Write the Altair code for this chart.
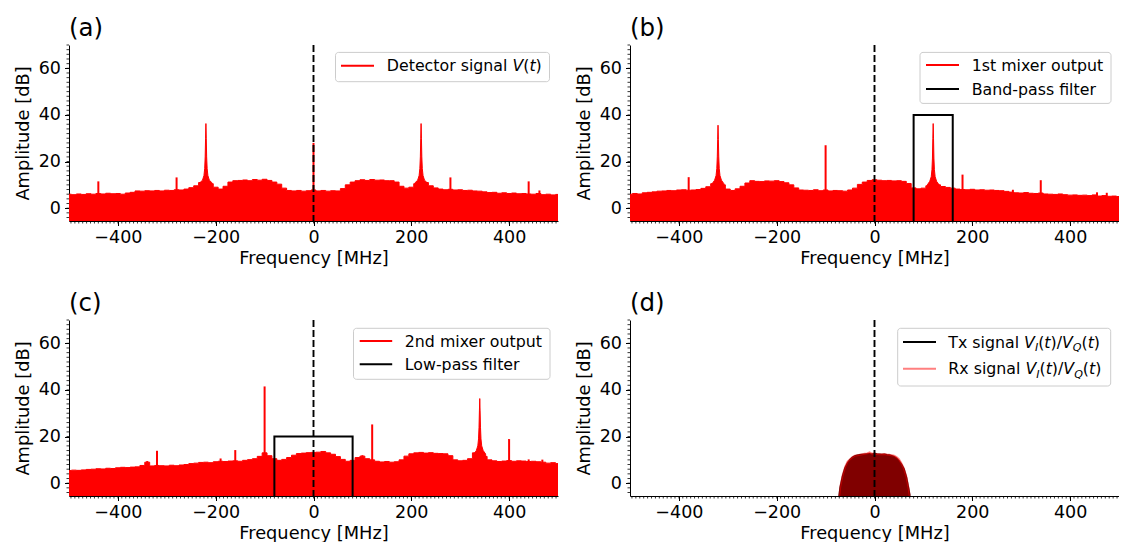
import altair as alt
import pandas as pd

FONT = "DejaVu Sans"
RED = "#ff0000"
X_MIN, X_MAX = -500, 500
Y_MIN, Y_MAX = -5.5, 70
W, H = 489, 176

# ---------------- data ----------------
freq_grid = list(range(-500, 501, 10))  # MHz sampling of the noise floor

floor_a = [6.0, 5.8, 6.1, 5.9, 6.2, 6.0, 6.3, 6.1, 6.4, 6.2,
           6.3, 6.0, 6.5, 6.8, 7.4, 7.3, 7.5, 7.4, 7.6, 7.4,
           7.7, 7.6, 7.9, 7.8, 8.2, 8.8, 9.6, 11.0, 12.5, 10.5,
           9.0, 8.2, 9.4, 11.2, 11.8, 11.9, 12.1, 11.8, 12.3, 12.0,
           12.4, 11.9, 11.2, 10.3, 8.6, 7.6, 7.4, 7.6, 7.3, 7.5,
           7.8, 7.4, 7.6, 7.3, 7.5, 7.4, 8.4, 10.0, 11.2, 11.8,
           12.2, 11.9, 12.3, 12.0, 12.1, 11.8, 11.8, 11.2, 9.4, 8.6,
           9.0, 10.5, 12.5, 11.0, 9.6, 8.7, 8.2, 7.9, 8.1, 7.8,
           7.9, 7.6, 7.7, 7.4, 7.3, 7.0, 6.7, 6.8, 6.4, 6.6,
           6.3, 6.5, 6.2, 6.3, 6.1, 6.0, 6.3, 5.8, 6.0, 5.7,
           5.9]

floor_b = [6.0, 6.3, 6.1, 6.6, 6.8, 7.0, 7.3, 7.4, 7.6, 7.5,
           7.8, 7.9, 7.7, 7.8, 8.0, 8.5, 9.2, 10.5, 12.5, 10.0,
           8.2, 7.6, 8.3, 9.4, 10.8, 11.8, 11.5, 11.4, 11.7, 11.6,
           11.8, 11.4, 10.9, 10.0, 8.7, 7.8, 7.7, 7.6, 7.9, 7.5,
           7.8, 7.4, 7.6, 7.5, 7.3, 7.8, 8.6, 10.2, 11.2, 11.9,
           12.2, 12.0, 11.8, 11.9, 11.7, 11.8, 11.5, 10.6, 8.7, 8.3,
           8.6, 9.6, 12.0, 10.0, 9.3, 8.9, 8.6, 8.2, 8.0, 7.9,
           8.1, 7.8, 7.9, 7.7, 7.8, 7.6, 7.5, 7.2, 6.9, 6.6,
           6.5, 6.7, 6.4, 6.3, 6.5, 6.1, 6.0, 5.9, 6.1, 5.8,
           5.6, 5.7, 5.5, 5.6, 5.4, 5.7, 5.2, 5.4, 5.1, 5.2,
           5.0]

floor_c = [5.4, 5.6, 5.5, 5.7, 5.9, 6.0, 6.2, 6.1, 6.4, 6.3,
           6.6, 6.8, 6.7, 6.9, 7.0, 7.6, 9.0, 7.4, 7.6, 7.5,
           7.4, 7.7, 7.5, 7.8, 8.0, 8.4, 8.6, 8.9, 9.0, 8.8,
           9.2, 9.4, 9.3, 9.5, 9.6, 9.4, 9.8, 10.1, 10.5, 11.5,
           13.0, 11.8, 10.5, 9.8, 10.2, 11.0, 12.0, 12.7, 12.9, 13.1,
           13.2, 13.3, 13.6, 13.0, 12.4, 11.4, 10.2, 9.4, 9.8, 11.0,
           11.6, 10.5, 10.0, 9.4, 9.1, 9.3, 9.0, 9.2, 10.0, 11.6,
           12.6, 13.0, 13.2, 12.9, 13.1, 12.8, 12.7, 12.6, 11.8, 10.0,
           9.6, 9.8, 10.5, 13.0, 14.0, 11.5, 10.0, 9.6, 9.3, 9.5,
           9.7, 9.4, 9.6, 9.5, 9.3, 9.4, 9.2, 9.0, 8.6, 8.8,
           8.4]

# narrow spurs (frequency MHz, level dB)
spur_a_f = [-440, -280, 0, 280, 440, 462]
spur_a_h = [11.5, 13.2, 28.0, 13.2, 11.5, 7.6]
spur_b_f = [-380, -100, 180, 283, 340, 455, 475]
spur_b_h = [13.3, 27.0, 14.4, 7.9, 12.0, 6.8, 6.6]
spur_c_f = [-340, -320, -190, -160, -100, 100, 120, 400, 440, 468]
spur_c_h = [9.5, 13.9, 10.6, 14.2, 41.5, 12.0, 25.2, 18.9, 10.2, 10.1]

# main tones with broadened skirts
peak_a1_f = [-232, -227, -224, -222.5, -221.5, -220.7, -220, -219.3, -218.5, -217.5, -216, -213, -208]
peak_a1_a = [11.0, 12.0, 14.0, 17.0, 22.0, 30.0, 36.3, 30.0, 22.0, 17.0, 14.0, 12.0, 11.0]
peak_a2_f = [208, 213, 216, 217.5, 218.5, 219.3, 220, 220.7, 221.5, 222.5, 224, 227, 232]
peak_a2_a = [11.0, 12.0, 14.0, 17.0, 22.0, 30.0, 36.3, 30.0, 22.0, 17.0, 14.0, 12.0, 11.0]
peak_b1_f = [-332, -327, -324, -322.5, -321.5, -320.7, -320, -319.3, -318.5, -317.5, -316, -313, -308]
peak_b1_a = [10.5, 12.0, 14.0, 17.0, 22.0, 29.5, 35.6, 29.5, 22.0, 17.0, 14.0, 12.0, 10.5]
peak_b2_f = [108, 113, 116, 117.5, 118.5, 119.3, 120, 120.7, 121.5, 122.5, 124, 127, 132]
peak_b2_a = [10.0, 11.5, 13.5, 16.5, 21.5, 30.0, 36.3, 30.0, 21.5, 16.5, 13.5, 11.5, 10.0]
peak_c1_f = [328, 333, 336, 337.5, 338.5, 339.3, 340, 340.7, 341.5, 342.5, 344, 347, 352]
peak_c1_a = [12.5, 14.0, 16.0, 19.0, 24.0, 31.0, 36.3, 31.0, 24.0, 19.0, 16.0, 14.0, 12.5]

# filters
bpf_f = [80, 80, 160, 160]
bpf_a = [-60, 40, 40, -60]
lpf_f = [-80, -80, 80, 80]
lpf_a = [-60, 20, 20, -60]

# baseband Tx / Rx spectra (panel d)
bb_f = [-72, -70, -65, -60, -55, -50, -45, -40, -35, -30, -25, -20, -15, -10, -5, 0,
        5, 10, 15, 20, 25, 30, 35, 40, 45, 50, 55, 60, 65, 70, 72]
tx_a = [-5.5, -2.0, 3.0, 6.5, 8.5, 10.0, 11.0, 11.6, 11.9, 12.1, 12.2, 12.3, 12.4, 12.5, 12.3, 12.6,
        12.4, 12.3, 12.2, 12.3, 12.1, 12.0, 11.7, 11.3, 10.6, 9.5, 8.0, 6.0, 2.5, -3.0, -5.5]
rx_a = [-5.5, -1.5, 3.5, 7.0, 9.3, 10.3, 11.2, 11.8, 12.0, 12.2, 12.4, 12.6, 12.8, 13.2, 12.6, 12.8,
        12.5, 12.4, 12.4, 12.5, 12.3, 12.2, 12.0, 11.8, 11.2, 10.3, 8.6, 6.4, 3.0, -2.5, -5.5]

x_major = [-400, -200, 0, 200, 400]
y_major = [0, 20, 40, 60]
x_minor = list(range(-496, 501, 8))
y_minor = list(range(-4, 71, 2))

# ---------------- helpers ----------------
xscale = alt.Scale(domain=[X_MIN, X_MAX], nice=False, zero=False)
yscale = alt.Scale(domain=[Y_MIN, Y_MAX], nice=False, zero=False)

x_axis = alt.Axis(values=x_major, tickSize=4.5, tickWidth=1, labelOverlap=False, labelFlush=False,
                  labelPadding=3, titlePadding=3, labelFontSize=17.5, titleFontSize=17.8, grid=False)
y_axis = alt.Axis(values=y_major, tickSize=4.5, tickWidth=1, labelOverlap=False, labelFlush=False,
                  labelPadding=4, titlePadding=6, labelFontSize=17.5, titleFontSize=17.8, grid=False)


def X(field="f"):
    return alt.X(f"{field}:Q", scale=xscale, axis=x_axis, title="Frequency [MHz]")


def Y(field="a"):
    return alt.Y(f"{field}:Q", scale=yscale, axis=y_axis, title="Amplitude [dB]")


ONE = pd.DataFrame({"k": [0]})

# DejaVu Sans advance widths (units of 1/2048 em)
CW = {' ': 651, 'D': 1577, 'e': 1260, 't': 803, 'c': 1126, 'o': 1253, 'r': 842, 's': 1067,
      'i': 569, 'g': 1300, 'n': 1298, 'a': 1255, 'l': 569, 'T': 1251, 'x': 1212, 'R': 1423,
      'V': 1401, '(': 799, ')': 799, '/': 690, 'I': 604, 'Q': 1612}
LEG_FS = 15.8


def legend_layers(box, line_x, text_x, rows):
    out = [alt.Chart(ONE).mark_rect(cornerRadius=3, fill="white", fillOpacity=0.8,
                                    stroke="#cccccc", strokeWidth=1).encode(
        x=alt.value(box[0]), x2=alt.value(box[2]), y=alt.value(box[1]), y2=alt.value(box[3]))]
    for ry, color, op, pieces in rows:
        out.append(alt.Chart(ONE).mark_rule(color=color, opacity=op, strokeWidth=2).encode(
            x=alt.value(line_x[0]), x2=alt.value(line_x[1]), y=alt.value(ry)))
        cx = text_x
        for txt, style in pieces:
            size = LEG_FS * (0.7 if style == "sub" else 1.0)
            dy = 3.5 if style == "sub" else 0.0
            out.append(alt.Chart(ONE).mark_text(
                align="left", baseline="alphabetic", font=FONT, fontSize=size,
                fontStyle="normal" if style == "r" else "italic", color="black").encode(
                x=alt.value(cx), y=alt.value(ry + 5.5 + dy), text=alt.value(txt)))
            cx += sum(CW.get(ch, 1250) for ch in txt) * size / 2048
    return out


def frame_layers(label):
    zero = alt.Chart(pd.DataFrame({"f": [0]})).mark_rule(
        color="black", strokeDash=[7, 3], strokeWidth=1.9).encode(x=X())
    xmin = alt.Chart(pd.DataFrame({"f": x_minor})).mark_rule(color="black", strokeWidth=0.8).encode(
        x=X(), y=alt.value(H), y2=alt.value(H + 2.5))
    ymin = alt.Chart(pd.DataFrame({"a": y_minor})).mark_rule(color="black", strokeWidth=0.8).encode(
        y=Y(), x=alt.value(0), x2=alt.value(-2.5))
    title = alt.Chart(ONE).mark_text(align="left", baseline="alphabetic", font=FONT, fontSize=24.5,
                                     color="black").encode(
        x=alt.value(0), y=alt.value(-9.3), text=alt.value(label))
    return [zero, xmin, ymin, title]


def panel(label, layers, legend):
    all_layers = layers + frame_layers(label) + legend
    return alt.layer(*all_layers).properties(width=W, height=H)


def spectrum_layers(floor, spur_f, spur_h, peaks):
    out = [alt.Chart(pd.DataFrame({"f": freq_grid, "a": floor})).mark_area(
        color=RED, clip=True, stroke=RED, strokeWidth=1, interpolate="step").encode(
        x=X(), y=Y(), y2=alt.datum(Y_MIN))]
    rows = []
    for pid, (pf, pa) in enumerate(peaks):
        for fv, av in zip(pf, pa):
            rows.append({"pid": pid, "f": fv, "a": av})
    out.append(alt.Chart(pd.DataFrame(rows)).mark_area(
        color=RED, clip=True, stroke=RED, strokeWidth=1).encode(
        x=X(), y=Y(), y2=alt.datum(Y_MIN), detail="pid:N"))
    out.append(alt.Chart(pd.DataFrame({"f": spur_f, "a": spur_h})).mark_rule(
        color=RED, strokeWidth=2, clip=True).encode(x=X(), y=Y(), y2=alt.datum(Y_MIN)))
    return out


def filter_layer(ff, fa):
    df = pd.DataFrame({"f": ff, "a": fa, "o": list(range(len(ff)))})
    return alt.Chart(df).mark_line(color="black", strokeWidth=2, clip=True).encode(
        x=X(), y=Y(), order="o:Q")


# ---------------- panels ----------------
pa = panel("(a)",
           spectrum_layers(floor_a, spur_a_f, spur_a_h, [(peak_a1_f, peak_a1_a), (peak_a2_f, peak_a2_a)]),
           legend_layers((266.5, 7.4, 480.5, 36.7), (272, 305), 317.8,
                         [(20.7, RED, 1, [("Detector signal ", "r"), ("V", "i"), ("(", "r"),
                                          ("t", "i"), (")", "r")])]))

pb = panel("(b)",
           spectrum_layers(floor_b, spur_b_f, spur_b_h, [(peak_b1_f, peak_b1_a), (peak_b2_f, peak_b2_a)])
           + [filter_layer(bpf_f, bpf_a)],
           legend_layers((290, 7.4, 481, 58.4), (296, 329), 341.7,
                         [(20, RED, 1, [("1st mixer output", "r")]),
                          (44, "black", 1, [("Band-pass filter", "r")])]))

pc = panel("(c)",
           spectrum_layers(floor_c, spur_c_f, spur_c_h, [(peak_c1_f, peak_c1_a)])
           + [filter_layer(lpf_f, lpf_a)],
           legend_layers((284.5, 8.3, 481, 59.3), (290.7, 323.2), 335.8,
                         [(21, RED, 1, [("2nd mixer output", "r")]),
                          (44.3, "black", 1, [("Low-pass filter", "r")])]))

viq = [("V", "i"), ("I", "sub"), ("(", "r"), ("t", "i"), (")", "r"), ("/", "r"),
       ("V", "i"), ("Q", "sub"), ("(", "r"), ("t", "i"), (")", "r")]
df_tx = pd.DataFrame({"f": bb_f, "a": tx_a})
df_rx = pd.DataFrame({"f": bb_f, "a": rx_a})
d_layers = [
    alt.Chart(df_tx).mark_area(color="black", clip=True).encode(x=X(), y=Y(), y2=alt.datum(Y_MIN)),
    alt.Chart(df_tx).mark_line(color="black", strokeWidth=1.9, clip=True).encode(x=X(), y=Y()),
    alt.Chart(df_rx).mark_area(color=RED, opacity=0.5, clip=True).encode(x=X(), y=Y(), y2=alt.datum(Y_MIN)),
    alt.Chart(df_rx).mark_line(color=RED, opacity=0.5, strokeWidth=1.9, clip=True).encode(x=X(), y=Y()),
]
pd_ = panel("(d)", d_layers,
            legend_layers((267.7, 8.3, 480.7, 66), (273, 306), 318.3,
                          [(22, "black", 1, [("Tx signal ", "r")] + viq),
                           (48.7, RED, 0.5, [("Rx signal ", "r")] + viq)]))

top = alt.hconcat(pa, pb, spacing=17)
bottom = alt.hconcat(pc, pd_, spacing=17)
chart = alt.vconcat(top, bottom, spacing=23).properties(
    padding={"left": 6, "top": 7, "right": 0, "bottom": 0}
).configure_view(stroke=None).configure_axis(
    labelFont=FONT, titleFont=FONT, labelColor="black", titleColor="black",
    domainColor="black", tickColor="black", domainWidth=1, titleFontWeight="normal",
)

chart.save("out.html", embed_options={"renderer": "svg", "actions": False})
